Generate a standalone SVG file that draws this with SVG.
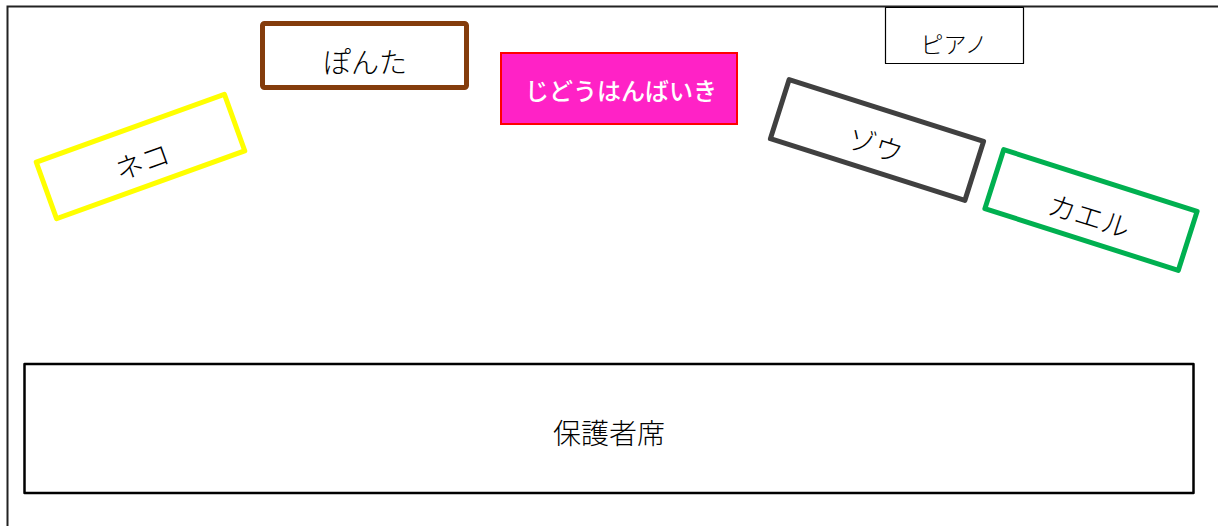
<svg xmlns="http://www.w3.org/2000/svg" width="1218" height="526" viewBox="0 0 1218 526">
<style>
  text { font-family: "Noto Sans CJK JP", "Noto Sans", sans-serif; font-weight: 300; text-anchor: middle; dominant-baseline: central; fill: #000; }
  .box { fill: #fff; stroke-linejoin: round; }
</style>
<rect x="0" y="0" width="1218" height="526" fill="#fff"/>
<g id="frame">
  <path d="M7.5 526 V6.5 H1218" fill="none" stroke="#222" stroke-width="2"/>
</g>
<g id="neko" transform="translate(140.5 156.5) rotate(-19.8)">
  <rect class="box" x="-100" y="-30" width="200" height="60" stroke="#FFFF00" stroke-width="5"/>
  <text x="0" y="4" font-size="28">ネコ</text>
</g>
<g id="ponta">
  <rect class="box" x="262.5" y="23.5" width="204" height="64" rx="2" stroke="#843C0C" stroke-width="5"/>
  <text x="365" y="61" font-size="28">ぽんた</text>
</g>
<g id="jidouhanbaiki">
  <rect x="501" y="53" width="236" height="71" fill="#FF22C6" stroke="#FF0000" stroke-width="2"/>
  <text x="621" y="89" font-size="24" style="fill:#fff;font-weight:500">じどうはんばいき</text>
</g>
<g id="piano">
  <rect class="box" x="885.5" y="7.5" width="138" height="56" stroke="#000" stroke-width="1.2"/>
  <text x="954" y="43" font-size="23">ピアノ</text>
</g>
<g id="zou" transform="translate(877 140) rotate(17.6)">
  <rect class="box" x="-102" y="-31" width="204" height="62" stroke="#404040" stroke-width="5"/>
  <text x="0" y="4" font-size="28">ゾウ</text>
</g>
<g id="kaeru" transform="translate(1091 210) rotate(17.7)">
  <rect class="box" x="-101.5" y="-31" width="203" height="62" stroke="#00B050" stroke-width="5"/>
  <text x="0" y="5" font-size="28">カエル</text>
</g>
<g id="hogoshaseki">
  <rect class="box" x="24.5" y="364" width="1169" height="129" stroke="#000" stroke-width="2.5"/>
  <text x="609" y="432" font-size="28">保護者席</text>
</g>
<g id="connectors"></g>
</svg>
